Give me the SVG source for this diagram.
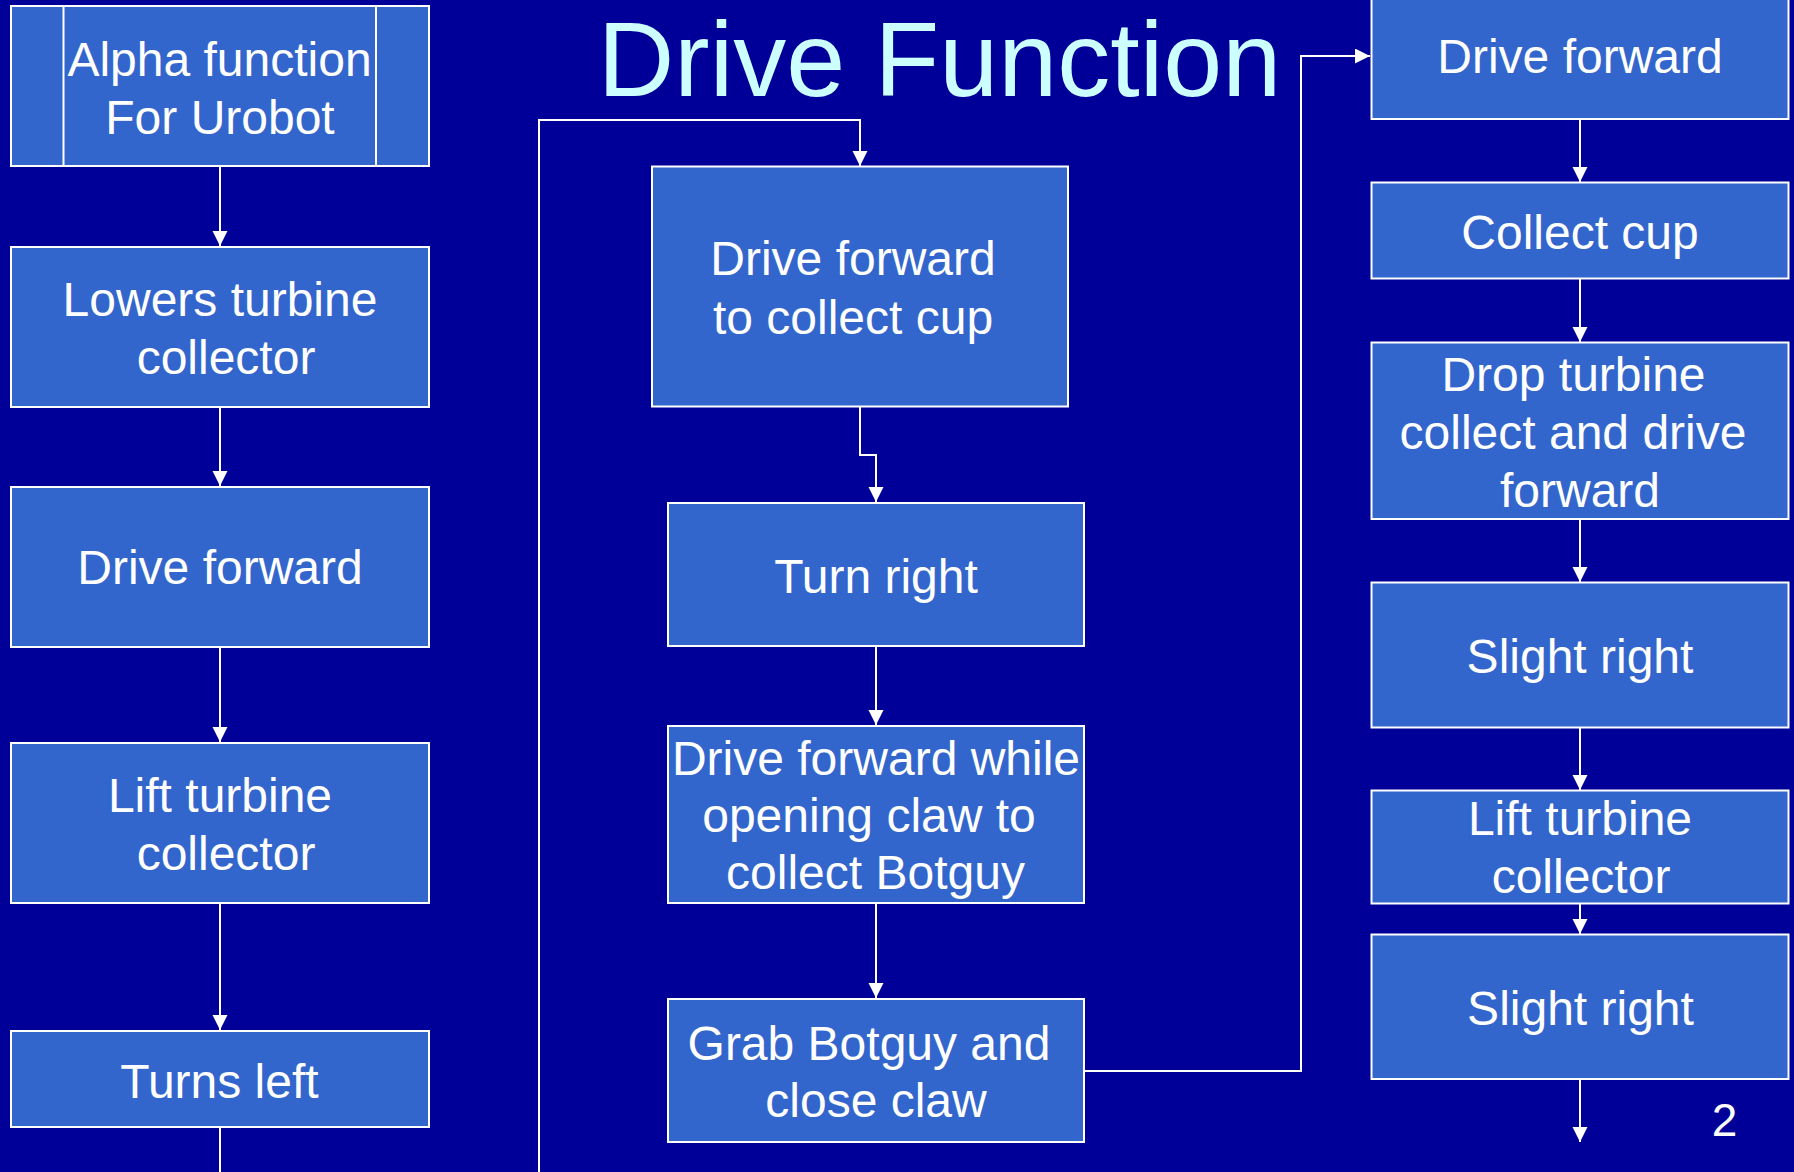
<svg xmlns="http://www.w3.org/2000/svg" width="1794" height="1172" viewBox="0 0 1794 1172">
<defs>
<style>
.box{fill:#3366CC;stroke:#FFFFFF;stroke-width:2}
.t{font-family:"Liberation Sans",Arial,sans-serif;font-size:48px;fill:#FFFFFF;text-anchor:middle}
.c{fill:none;stroke:#FFFFFF;stroke-width:2}
.title{font-family:"Liberation Sans",Arial,sans-serif;font-size:106px;fill:#CCFFFF;text-anchor:middle}
</style>
<marker id="ah" markerUnits="userSpaceOnUse" markerWidth="16" markerHeight="16" refX="15" refY="7.5" orient="auto">
<path d="M0,0 L15,7.5 L0,15 z" fill="#FFFFFF"/>
</marker>
</defs>
<rect x="0" y="0" width="1794" height="1172" fill="#000099"/>
<text class="title" x="939.5" y="96">Drive Function</text>

<g id="connectors">
<path class="c" d="M220,167 V246" marker-end="url(#ah)"/>
<path class="c" d="M220,407 V486" marker-end="url(#ah)"/>
<path class="c" d="M220,647 V742" marker-end="url(#ah)"/>
<path class="c" d="M220,903 V1030" marker-end="url(#ah)"/>
<path class="c" d="M220,1127 V1172"/>
<path class="c" d="M539,1172 V120 H860 V166" marker-end="url(#ah)"/>
<path class="c" d="M860,407 V455 H876 V502" marker-end="url(#ah)"/>
<path class="c" d="M876,646 V725" marker-end="url(#ah)"/>
<path class="c" d="M876,903 V998" marker-end="url(#ah)"/>
<path class="c" d="M1084,1071 H1301 V56 H1370" marker-end="url(#ah)"/>
<path class="c" d="M1580,119 V182" marker-end="url(#ah)"/>
<path class="c" d="M1580,279 V342" marker-end="url(#ah)"/>
<path class="c" d="M1580,519 V582" marker-end="url(#ah)"/>
<path class="c" d="M1580,727 V790" marker-end="url(#ah)"/>
<path class="c" d="M1580,903 V934" marker-end="url(#ah)"/>
<path class="c" d="M1580,1079 V1142" marker-end="url(#ah)"/>
</g>

<g id="n-alpha">
<rect class="box" x="11" y="6" width="418" height="160"/>
<line class="c" x1="63.5" y1="6" x2="63.5" y2="166"/>
<line class="c" x1="376" y1="6" x2="376" y2="166"/>
<text class="t" x="219.5" y="76">Alpha function</text>
<text class="t" x="220" y="134">For Urobot</text>
</g>
<g id="n-lowers">
<rect class="box" x="11" y="247" width="418" height="160"/>
<text class="t" x="220" y="316">Lowers turbine</text>
<text class="t" x="226" y="374">collector</text>
</g>
<g id="n-drive1">
<rect class="box" x="11" y="487" width="418" height="160"/>
<text class="t" x="220" y="584">Drive forward</text>
</g>
<g id="n-lift1">
<rect class="box" x="11" y="743" width="418" height="160"/>
<text class="t" x="220" y="811.5">Lift turbine</text>
<text class="t" x="226" y="869.5">collector</text>
</g>
<g id="n-turnsleft">
<rect class="box" x="11" y="1031" width="418" height="96"/>
<text class="t" x="219.5" y="1097.5">Turns left</text>
</g>

<g id="n-drivecup">
<rect class="box" x="652" y="166.5" width="416" height="240"/>
<text class="t" x="853" y="275">Drive forward</text>
<text class="t" x="853" y="334">to collect cup</text>
</g>
<g id="n-turnright">
<rect class="box" x="668" y="503" width="416" height="143"/>
<text class="t" x="876" y="593">Turn right</text>
</g>
<g id="n-drivewhile">
<rect class="box" x="668" y="726" width="416" height="177"/>
<text class="t" x="876" y="775">Drive forward while</text>
<text class="t" x="869" y="831.5">opening claw to</text>
<text class="t" x="875.5" y="889">collect Botguy</text>
</g>
<g id="n-grab">
<rect class="box" x="668" y="999" width="416" height="143"/>
<text class="t" x="869" y="1059.5">Grab Botguy and</text>
<text class="t" x="876" y="1116.5">close claw</text>
</g>

<g id="n-drive2">
<rect class="box" x="1371.5" y="-3" width="417" height="122"/>
<text class="t" x="1580" y="72.5">Drive forward</text>
</g>
<g id="n-collectcup">
<rect class="box" x="1371.5" y="182.5" width="417" height="96"/>
<text class="t" x="1580" y="248.5">Collect cup</text>
</g>
<g id="n-drop">
<rect class="box" x="1371.5" y="342.5" width="417" height="176.5"/>
<text class="t" x="1573.5" y="390.5">Drop turbine</text>
<text class="t" x="1573" y="448.5">collect and drive</text>
<text class="t" x="1580" y="506.5">forward</text>
</g>
<g id="n-slight1">
<rect class="box" x="1371.5" y="582.5" width="417" height="145"/>
<text class="t" x="1580" y="672.5">Slight right</text>
</g>
<g id="n-lift2">
<rect class="box" x="1371.5" y="790.5" width="417" height="113"/>
<text class="t" x="1580" y="835">Lift turbine</text>
<text class="t" x="1581" y="892.5">collector</text>
</g>
<g id="n-slight2">
<rect class="box" x="1371.5" y="934.5" width="417" height="144.5"/>
<text class="t" x="1580.5" y="1025">Slight right</text>
</g>
<text x="1724.5" y="1136" font-family="Liberation Sans, Arial, sans-serif" font-size="46" fill="#FFFFFF" text-anchor="middle">2</text>
</svg>
